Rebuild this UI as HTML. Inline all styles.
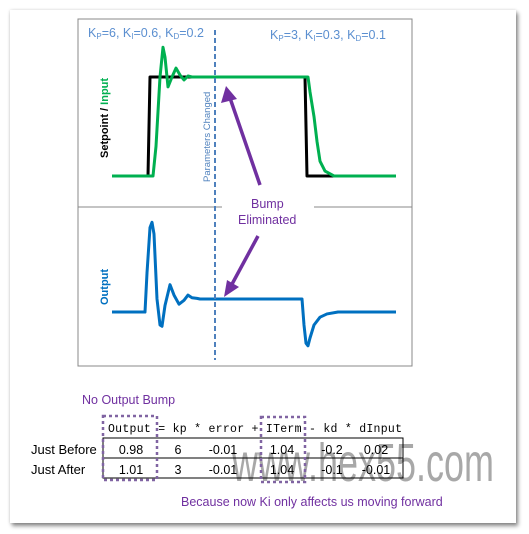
<!DOCTYPE html>
<html><head><meta charset="utf-8">
<style>
body{margin:0;width:529px;height:534px;background:#fff;overflow:hidden;font-family:"Liberation Sans",sans-serif}
#card{position:absolute;left:10px;top:10px;width:506px;height:513px;background:#fff;box-shadow:2px 3px 4px rgba(0,0,0,0.45),0 0 3px rgba(0,0,0,0.15)}
</style></head>
<body>
<div id="card"></div>
<svg id="svg" width="529" height="534" style="position:absolute;left:0;top:0">
<rect x="78" y="19" width="334" height="347" fill="none" stroke="#888" stroke-width="1"/>
<line x1="78" y1="207" x2="412" y2="207" stroke="#888"/>
<rect x="222" y="198" width="92" height="12" fill="#fff"/>
<g id="plots"></g>
<line x1="215" y1="30" x2="215" y2="360" stroke="#4f81bd" stroke-width="2" stroke-dasharray="5,3"/>
<text x="88" y="37" font-size="12.5" fill="#5b8fd0">K<tspan font-size="8" dy="2">P</tspan><tspan dy="-2">=6, K</tspan><tspan font-size="8" dy="2">I</tspan><tspan dy="-2">=0.6, K</tspan><tspan font-size="8" dy="2">D</tspan><tspan dy="-2">=0.2</tspan></text>
<text x="270" y="39" font-size="12.5" fill="#5b8fd0">K<tspan font-size="8" dy="2">P</tspan><tspan dy="-2">=3, K</tspan><tspan font-size="8" dy="2">I</tspan><tspan dy="-2">=0.3, K</tspan><tspan font-size="8" dy="2">D</tspan><tspan dy="-2">=0.1</tspan></text>
<text transform="translate(108,158) rotate(-90)" font-size="11" font-weight="bold"><tspan fill="#000">Setpoint / </tspan><tspan fill="#00b050">Input</tspan></text>
<text transform="translate(108,305) rotate(-90)" font-size="11" font-weight="bold" fill="#0070c0">Output</text>
<text transform="translate(210,182) rotate(-90)" font-size="9.5" fill="#4f81bd">Parameters Changed</text>
<text x="251" y="208" font-size="12.5" fill="#7030a0">Bump</text>
<text x="238" y="224" font-size="12.5" fill="#7030a0">Eliminated</text>
<line x1="260" y1="185" x2="230" y2="98" stroke="#7030a0" stroke-width="3.5"/>
<polygon points="226,86 221,103 237,99" fill="#7030a0"/>
<line x1="258" y1="236" x2="231" y2="286" stroke="#7030a0" stroke-width="3.5"/>
<polygon points="224,297 227,280 239,287" fill="#7030a0"/>
<text x="82" y="404" font-size="12.5" fill="#7030a0">No Output Bump</text>
<text transform="translate(232,481) scale(1,1.45)" x="0" y="0" font-size="37" fill="#999" fill-opacity="0.85" textLength="262" lengthAdjust="spacingAndGlyphs">www.hex55.com</text>
<text x="108" y="432" font-family="Liberation Mono,monospace" font-size="11.5" fill="#000" textLength="294" lengthAdjust="spacing">Output = kp * error + ITerm - kd * dInput</text>
<rect x="103" y="438" width="300" height="40" fill="none" stroke="#000"/>
<line x1="103" y1="458" x2="403" y2="458" stroke="#000"/>
<text x="31" y="454" font-size="13" fill="#000">Just Before</text>
<text x="31" y="474" font-size="13" fill="#000">Just After</text>
<g font-size="12.5" fill="#000" text-anchor="middle">
<text x="131" y="454">0.98</text><text x="178" y="454">6</text><text x="223" y="454">-0.01</text><text x="282" y="454">1.04</text><text x="332" y="454">-0.2</text><text x="376" y="454">0.02</text>
<text x="131" y="474">1.01</text><text x="178" y="474">3</text><text x="223" y="474">-0.01</text><text x="282" y="474">1.04</text><text x="332" y="474">-0.1</text><text x="376" y="474">-0.01</text>
</g>
<rect x="103" y="416" width="54" height="64" fill="none" stroke="#8064a2" stroke-width="2.5" stroke-dasharray="3,3"/>
<rect x="261" y="417" width="44" height="65" fill="none" stroke="#8064a2" stroke-width="2.5" stroke-dasharray="3,3"/>
<text x="181" y="506" font-size="12.5" fill="#7030a0">Because now Ki only affects us moving forward</text>
</svg>
<script>
const setT=[0,36,38,193,195,284];
const setV=[0,0,1,1,0,0];
const inT=[0,41,44,48,51,53,56,60,64,68,72,76,80,84,196,198,202,205,208,213,222,284];
const inV=[0,0,0.3,1.0,1.3,1.2,0.9,1.0,1.09,1.02,0.97,1.01,1.0,1.0,1.0,0.85,0.6,0.35,0.15,0.05,0,0];
const outT=[0,33,35,38,40,42,45,48,50,53,58,62,67,72,76,80,85,88,190,192,194,196,198,202,208,215,226,284];
const outV=[0,0,3,6.5,6.9,6,1,-1.0,-1.1,0.5,2.1,1.3,0.6,0.9,1.3,1.1,1.05,1,1,-1,-2.4,-2.6,-2,-1,-0.4,-0.15,0,0];
const xS=t=>112+t;
const yTop=v=>176-v*99;
const yBot=v=>312-v*13;
const g=document.getElementById('plots');
function line(T,V,ys,color,name){
  const p=document.createElementNS('http://www.w3.org/2000/svg','polyline');
  p.setAttribute('points',T.map((t,i)=>xS(t)+','+ys(V[i])).join(' '));
  p.setAttribute('fill','none');p.setAttribute('stroke',color);p.setAttribute('stroke-width','3');
  p.setAttribute('stroke-linejoin','round');
  
  
  g.appendChild(p);
}
line(setT,setV,yTop,'#000','setpoint-line');
line(inT,inV,yTop,'#00b050','input-line');
line(outT,outV,yBot,'#0070c0','output-line');
</script>
</body></html>
